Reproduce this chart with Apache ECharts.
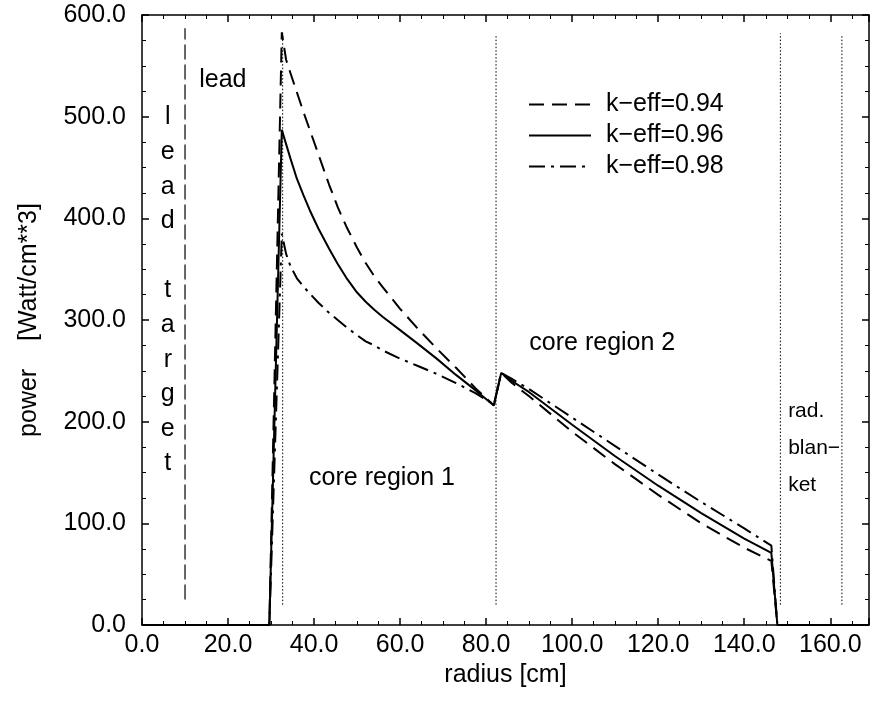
<!DOCTYPE html>
<html>
<head>
<meta charset="utf-8">
<script src="https://cdn.jsdelivr.net/npm/echarts@6/dist/echarts.min.js"></script>
<style>
  html, body { margin: 0; padding: 0; background: #fff; }
  #main { width: 873px; height: 701px; }
</style>
</head>
<body>
<div id="main"></div>
<script>
// radius grid [cm], shared by the three curves
var radius = [0, 29.6, 32.5, 33.5, 34.5, 36, 37.5, 39, 41, 43.5, 45.5, 47.5, 50, 52, 54, 56, 60, 64,
  68.5, 73, 77.5, 81.8, 83.5, 86, 90, 100, 110, 120, 130, 140, 146.3, 147.7, 169]
// power density [Watt/cm**3]
var keff094 = [0, 0, 583, 556, 543, 524, 505, 487, 463, 433, 411, 392, 371, 356, 343, 332, 311, 292,
  272, 253, 233, 216, 248, 238, 225, 190, 158, 128, 100, 76, 63, 0, 0]
var keff096 = [0, 0, 487, 473, 459, 439, 423, 408, 390, 370, 355, 341.5, 327, 318, 310, 303, 290, 277,
  262, 246, 231, 216, 248, 240, 229, 197, 166, 137, 110, 85, 71, 0, 0]
var keff098 = [0, 0, 385, 365, 353, 341, 333, 326, 317, 307, 300, 293, 285, 279, 275, 270, 262, 255,
  247, 238, 228, 217, 248, 242, 232, 204, 176, 148, 121, 95, 78, 0, 0]
var seriesNames = ['k\u2212eff=0.94', 'k\u2212eff=0.96', 'k\u2212eff=0.98']

// region boundaries (dotted) and the lead target edge (dashed)
var dividerX = [32.7, 82.3, 148.4, 162.7]
var dividerTop = [583, 580, 582, 580]
var dividerBottom = 20
var targetX = 10.0
var targetRange = [25, 587]

var FONT = '"Liberation Sans", Arial, Helvetica, sans-serif'

function pairs (ys) {
  return radius.map(function (r, i) { return [r, ys[i]] })
}

function textMark (x, y, text, opts) {
  var label = Object.assign({
    show: true, position: 'inside', formatter: text, color: '#000',
    fontFamily: FONT, fontSize: 25, opacity: 1
  }, opts || {})
  return { value: [x, y], label: label }
}

var chart = echarts.init(document.getElementById('main'), null, { renderer: 'canvas' })

var axisCommon = {
  type: 'value',
  splitLine: { show: false },
  axisLine: { show: true, onZero: false, lineStyle: { color: '#000', width: 1.5 } },
  axisTick: { show: true, inside: true, length: 7, lineStyle: { color: '#000', width: 1.5 } },
  minorTick: { show: true, splitNumber: 4, length: 4, lineStyle: { color: '#000', width: 1 } }
}

var xLabel = {
  color: '#000', fontFamily: FONT, fontSize: 25, margin: 8, showMaxLabel: false,
  formatter: function (v) { return v % 20 === 0 ? v.toFixed(1) : '' }
}
var yLabel = {
  color: '#000', fontFamily: FONT, fontSize: 25, margin: 16,
  formatter: function (v) { return v.toFixed(1) }
}

var lineSeries = [
  { data: keff094, dash: [15, 8] },
  { data: keff096, dash: 'solid' },
  { data: keff098, dash: [16, 6, 3, 6] }
].map(function (s, i) {
  return {
    name: seriesNames[i],
    type: 'line',
    data: pairs(s.data),
    showSymbol: false,
    symbol: 'none',
    lineStyle: { color: '#000', width: 2, type: s.dash },
    itemStyle: { color: '#000' },
    z: 5
  }
})

var dividerSeries = dividerX.map(function (x, i) {
  return {
    type: 'line',
    data: [[x, dividerBottom], [x, dividerTop[i]]],
    showSymbol: false,
    symbol: 'none',
    silent: true,
    lineStyle: { color: '#000', width: 1, type: [1.5, 2] },
    z: 2
  }
})

var targetSeries = {
  type: 'line',
  data: [[targetX, targetRange[0]], [targetX, targetRange[1]]],
  showSymbol: false,
  symbol: 'none',
  silent: true,
  lineStyle: { color: '#000', width: 1.2, type: [15, 5] },
  z: 2
}

var textSeries = {
  type: 'scatter',
  symbolSize: 0,
  silent: true,
  z: 10,
  itemStyle: { opacity: 1 },
  data: [
    textMark(18.8, 536, 'lead'),
    textMark(6.0, 329, 'l\ne\na\nd\n\nt\na\nr\ng\ne\nt', { lineHeight: 34.6, align: 'center' }),
    textMark(55.8, 144.6, 'core region 1'),
    textMark(107.0, 277.4, 'core region 2'),
    textMark(150.2, 174.1, 'rad.\nblan\u2212\nket', { fontSize: 21, lineHeight: 37, align: 'left' })
  ]
}

var option = {
  backgroundColor: '#fff',
  animation: false,
  grid: { left: 142, right: 4, top: 15, bottom: 76, containLabel: false, outerBoundsMode: 'none' },
  legend: {
    data: seriesNames,
    orient: 'vertical',
    left: 528,
    top: 92,
    padding: 0,
    itemWidth: 62,
    itemHeight: 14,
    itemGap: 6,
    itemStyle: { opacity: 0 },
    textStyle: { color: '#000', fontFamily: FONT, fontSize: 25, padding: [0, 0, 0, 10] }
  },
  xAxis: [
    Object.assign({}, axisCommon, {
      position: 'bottom', min: 0, max: 169, interval: 20,
      axisLabel: xLabel,
      name: 'radius [cm]', nameLocation: 'middle', nameGap: 36,
      nameTextStyle: { color: '#000', fontFamily: FONT, fontSize: 25 }
    }),
    Object.assign({}, axisCommon, {
      position: 'top', min: 0, max: 169, interval: 20,
      axisLabel: { show: false }
    })
  ],
  yAxis: [
    Object.assign({}, axisCommon, {
      position: 'left', min: 0, max: 600, interval: 100,
      axisLabel: yLabel,
      name: 'power    [Watt/cm**3]', nameLocation: 'middle', nameGap: 100,
      nameTextStyle: { color: '#000', fontFamily: FONT, fontSize: 25 }
    }),
    Object.assign({}, axisCommon, {
      position: 'right', min: 0, max: 600, interval: 100,
      axisLabel: { show: false }
    })
  ],
  series: lineSeries.concat(dividerSeries, [targetSeries, textSeries])
}

chart.setOption(option)
</script>
</body>
</html>
